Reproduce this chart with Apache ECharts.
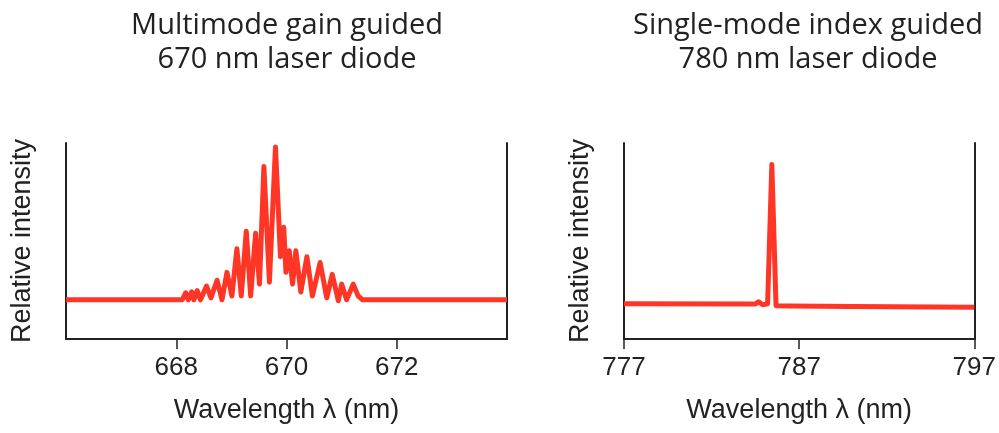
<!DOCTYPE html>
<html>
<head>
<meta charset="utf-8">
<script src="https://cdn.jsdelivr.net/npm/echarts@6/dist/echarts.min.js"></script>
<style>
  html, body { margin: 0; padding: 0; background: #fff; }
  #main { width: 999px; height: 433px; }
</style>
</head>
<body>
<div id="main"></div>
<script>
// multimode 670 nm diode, wavelength (nm) and relative intensity
var multiWl = [666, 668.11, 668.17, 668.22, 668.28, 668.32, 668.38, 668.44, 668.55, 668.63,
  668.74, 668.83, 668.92, 669.01, 669.10, 669.18, 669.27, 669.35, 669.44, 669.51,
  669.59, 669.69, 669.80, 669.89, 669.95, 669.99, 670.05, 670.11, 670.17, 670.26,
  670.37, 670.47, 670.61, 670.73, 670.83, 670.94, 671.00, 671.09, 671.21, 671.30,
  671.38, 674];
var multiInt = [0.2, 0.2, 0.236, 0.2, 0.241, 0.2, 0.247, 0.2, 0.27, 0.21,
  0.30, 0.2, 0.34, 0.22, 0.46, 0.22, 0.55, 0.22, 0.54, 0.28,
  0.88, 0.29, 0.98, 0.42, 0.57, 0.34, 0.45, 0.28, 0.45, 0.24,
  0.42, 0.22, 0.39, 0.21, 0.33, 0.195, 0.28, 0.2, 0.28, 0.22,
  0.2, 0.2];

// single-mode 780 nm diode
var singleWl = [777, 784.5, 784.68, 784.92, 785.2, 785.44, 785.68, 786.5, 790, 797];
var singleInt = [0.18, 0.178, 0.19, 0.175, 0.18, 0.89, 0.17, 0.168, 0.166, 0.162];

var multiTicks = [668, 670, 672];
var singleTicks = [777, 787, 797];

var red = '#ff3526';
var ink = '#222';
var labelFont = 'Liberation Sans';

function pairs(xs, ys) {
  var out = [];
  for (var i = 0; i < xs.length; i++) out.push([xs[i], ys[i]]);
  return out;
}

function xAxisFor(grid, min, max, ticks) {
  return {
    type: 'value', gridIndex: grid, min: min, max: max,
    name: 'Wavelength \u03bb (nm)', nameLocation: 'middle', nameGap: 58,
    nameTextStyle: { fontFamily: labelFont, fontSize: 27, color: ink },
    axisLine: { lineStyle: { color: ink, width: 2 } },
    axisTick: { show: true, length: 10, customValues: ticks, lineStyle: { color: ink, width: 1.5 } },
    axisLabel: { customValues: ticks, margin: 16, fontFamily: labelFont, fontSize: 26, color: ink },
    splitLine: { show: false }
  };
}

function yAxisFor(grid) {
  return {
    type: 'value', gridIndex: grid, min: 0, max: 1,
    name: 'Relative intensity', nameLocation: 'middle', nameGap: 30, nameRotate: 90,
    nameTextStyle: { fontFamily: labelFont, fontSize: 27, color: ink },
    axisLine: { show: true, lineStyle: { color: ink, width: 2 } },
    axisTick: { show: false }, axisLabel: { show: false }, splitLine: { show: false }
  };
}

function rightLine(grid) {
  return {
    type: 'value', gridIndex: grid, min: 0, max: 1, position: 'right',
    axisLine: { show: true, lineStyle: { color: ink, width: 2 } },
    axisTick: { show: false }, axisLabel: { show: false }, splitLine: { show: false }
  };
}

var titleStyle = { fontFamily: 'Open Sans', fontSize: 29, fontWeight: 'normal', color: ink, lineHeight: 34 };

var chart = echarts.init(document.getElementById('main'));
chart.setOption({
  animation: false,
  backgroundColor: '#fff',
  title: [
    { text: 'Multimode gain guided\n670 nm laser diode', left: 282, top: 4, textAlign: 'center', textStyle: titleStyle },
    { text: 'Single-mode index guided\n780 nm laser diode', left: 803, top: 4, textAlign: 'center', textStyle: titleStyle }
  ],
  grid: [
    { left: 66, right: 492, top: 143, bottom: 94 },
    { left: 624, right: 21, top: 143, bottom: 94 }
  ],
  xAxis: [xAxisFor(0, 666, 674, multiTicks), xAxisFor(1, 777, 797, singleTicks)],
  yAxis: [yAxisFor(0), rightLine(0), yAxisFor(1), rightLine(1)],
  series: [
    {
      type: 'line', xAxisIndex: 0, yAxisIndex: 0, data: pairs(multiWl, multiInt),
      showSymbol: false, lineStyle: { color: red, width: 5, join: 'round' }
    },
    {
      type: 'line', xAxisIndex: 1, yAxisIndex: 2, data: pairs(singleWl, singleInt),
      showSymbol: false, lineStyle: { color: red, width: 5, join: 'round' }
    }
  ]
});
</script>
</body>
</html>
